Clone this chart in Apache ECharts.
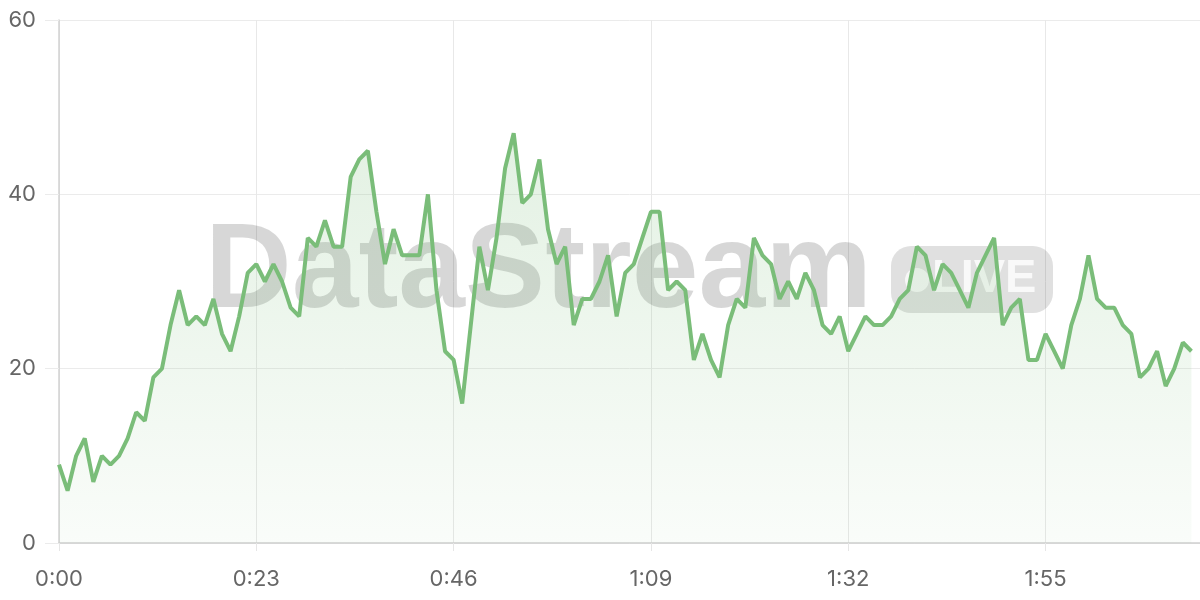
<!DOCTYPE html>
<html>
<head>
<meta charset="utf-8">
<script src="https://cdn.jsdelivr.net/npm/echarts@6/dist/echarts.min.js"></script>
<style>
html,body{margin:0;padding:0;background:#fff;}
#chart{width:1200px;height:600px;}
</style>
</head>
<body>
<div id="chart"></div>
<script>
// seconds since start (one sample per second)
const seconds = [
  0,1,2,3,4,5,6,7,8,9,10,11,12,13,14,15,16,17,18,19,20,21,22,23,24,25,26,27,28,29,
  30,31,32,33,34,35,36,37,38,39,40,41,42,43,44,45,46,47,48,49,50,51,52,53,54,55,56,57,58,59,
  60,61,62,63,64,65,66,67,68,69,70,71,72,73,74,75,76,77,78,79,80,81,82,83,84,85,86,87,88,89,
  90,91,92,93,94,95,96,97,98,99,100,101,102,103,104,105,106,107,108,109,110,111,112,113,114,115,116,117,118,119,
  120,121,122,123,124,125,126,127,128,129,130,131,132
];
const values = [
  9,6,10,12,7,10,9,10,12,15,14,19,20,25,29,25,26,25,28,24,22,26,31,32,30,32,30,27,26,35,
  34,37,34,34,42,44,45,38,32,36,33,33,33,40,29,22,21,16,25,34,29,35,43,47,39,40,44,36,32,34,
  25,28,28,30,33,26,31,32,35,38,38,29,30,29,21,24,21,19,25,28,27,35,33,32,28,30,28,31,29,25,
  24,26,22,24,26,25,25,26,28,29,34,33,29,32,31,29,27,31,33,35,25,27,28,21,21,24,22,20,25,28,
  33,28,27,27,25,24,19,20,22,18,20,23,22
];
const xTicks = [0, 23, 46, 69, 92, 115];
const yTicks = [0, 20, 40, 60];
const watermarkMain = 'DataStream';
const watermarkBadge = 'LIVE';

function fmtTime(s) {
  const m = Math.floor(s / 60);
  const r = Math.round(s % 60);
  return m + ':' + (r < 10 ? '0' + r : r);
}

const chart = echarts.init(document.getElementById('chart'), null, {renderer: 'canvas'});
const FONT = 'Inter, "Noto Sans", "Liberation Sans", sans-serif';

chart.setOption({
  animation: false,
  backgroundColor: '#ffffff',
  grid: {left: 59, right: -1, top: 20, bottom: 57, containLabel: false},
  graphic: [
    {
      type: 'text', z: 1, left: 205, top: 214,
      style: {text: watermarkMain, font: 'bold 120px "Liberation Sans", Arial, sans-serif', fill: 'rgba(0,0,0,0.155)'}
    },
    {
      type: 'rect', z: 1, shape: {x: 891, y: 246, width: 162, height: 67, r: 20},
      style: {fill: 'rgba(0,0,0,0.12)'}
    },
    {
      type: 'circle', z: 1, shape: {cx: 917, cy: 280, r: 12},
      style: {fill: 'rgba(255,255,255,0.75)'}
    },
    {
      type: 'text', z: 1, left: 932, top: 256,
      style: {text: watermarkBadge, font: 'bold 47px "Liberation Sans", Arial, sans-serif', fill: 'rgba(255,255,255,0.8)'}
    }
  ],
  xAxis: {
    type: 'value',
    min: xTicks[0],
    max: 133,
    interval: xTicks[1] - xTicks[0],
    axisLine: {show: true, lineStyle: {color: '#cfcfcf', width: 1.5}},
    axisTick: {show: true, length: 8, lineStyle: {color: '#e6e6e6'}},
    axisLabel: {
      show: true, margin: 25, color: '#666', fontSize: 22, fontFamily: FONT,
      showMaxLabel: false,
      formatter: v => (xTicks.indexOf(v) >= 0 ? fmtTime(v) : '')
    },
    splitLine: {show: true, lineStyle: {color: '#e8e8e8', width: 1}}
  },
  yAxis: {
    type: 'value',
    min: yTicks[0],
    max: yTicks[yTicks.length - 1],
    interval: yTicks[1] - yTicks[0],
    axisLine: {show: true, lineStyle: {color: '#d2d2d2', width: 1.5}},
    axisTick: {show: true, length: 14, lineStyle: {color: '#ebebeb'}},
    axisLabel: {show: true, margin: 23, color: '#666', fontSize: 22, fontFamily: FONT},
    splitLine: {show: true, lineStyle: {color: '#ebebeb', width: 1}}
  },
  series: [{
    type: 'line',
    data: seconds.map((s, i) => [s, values[i]]),
    showSymbol: false,
    symbol: 'none',
    smooth: false,
    lineStyle: {color: '#7abd79', width: 4},
    itemStyle: {color: '#7abd79'},
    areaStyle: {
      color: new echarts.graphic.LinearGradient(0, 0, 0, 1, [
        {offset: 0, color: 'rgba(122,189,121,0.30)'},
        {offset: 1, color: 'rgba(122,189,121,0.06)'}
      ])
    },
    z: 2
  }]
});
</script>
</body>
</html>
